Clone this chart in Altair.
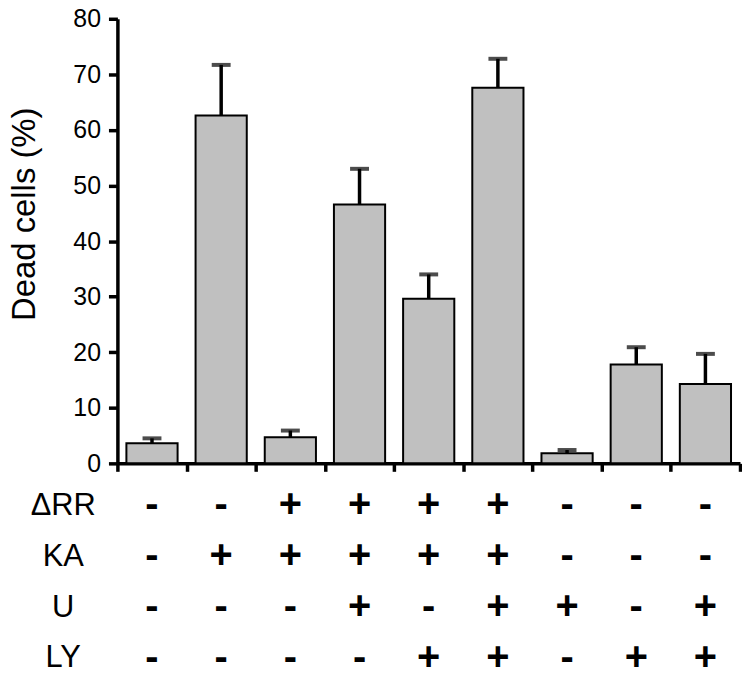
import altair as alt
import pandas as pd

# ---- data ----
conditions = ["1", "2", "3", "4", "5", "6", "7", "8", "9"]
dead_mean = [3.6, 62.6, 4.7, 46.6, 29.6, 67.6, 1.8, 17.8, 14.3]
dead_err = [0.9, 9.1, 1.2, 6.4, 4.4, 5.2, 0.6, 3.1, 5.4]

factors = ["ΔRR", "KA", "U", "LY"]
sign_drr = ["-", "-", "+", "+", "+", "+", "-", "-", "-"]
sign_ka = ["-", "+", "+", "+", "+", "+", "-", "-", "-"]
sign_u = ["-", "-", "-", "+", "-", "+", "+", "-", "+"]
sign_ly = ["-", "-", "-", "-", "+", "+", "-", "+", "+"]
y_ticks = [0, 10, 20, 30, 40, 50, 60, 70, 80]

bars_df = pd.DataFrame({"condition": conditions, "mean": dead_mean, "err": dead_err})
bars_df["top"] = bars_df["mean"] + bars_df["err"]

rows = []
for f, signs in zip(factors, [sign_drr, sign_ka, sign_u, sign_ly]):
    for c, s in zip(conditions, signs):
        rows.append({"factor": f, "condition": c, "sign": s})
signs_df = pd.DataFrame(rows)

PLOT_W = 626
x_scale = alt.Scale(domain=conditions, paddingInner=0, paddingOuter=0)

x_axis = alt.Axis(
    labels=False, title=None, tickBand="extent", grid=False,
    domainColor="black", domainWidth=3.5, tickColor="black",
    tickWidth=3.5, tickSize=8,
)
y_axis = alt.Axis(
    values=y_ticks, title="Dead cells (%)", grid=False,
    domainColor="black", domainWidth=3.5, tickColor="black",
    tickWidth=3.5, tickSize=9, labelFontSize=25, labelColor="black",
    labelPadding=8, titleFontSize=33, titleFontWeight="normal",
    titleColor="black", titlePadding=32, titleY=196,
)

base = alt.Chart(bars_df).encode(
    x=alt.X("condition:N", scale=x_scale, axis=x_axis, sort=conditions)
)

bars = base.mark_bar(
    fill="#c0c0c0", stroke="black", strokeWidth=2,
    width=alt.RelativeBandSize(0.74),
).encode(y=alt.Y("mean:Q", scale=alt.Scale(domain=[0, 80], nice=False), axis=y_axis))

err = base.mark_rule(color="black", strokeWidth=3.5).encode(
    y=alt.Y("mean:Q"), y2=alt.Y2("top:Q")
)
caps = base.mark_tick(color="black", thickness=4, size=19, orient="horizontal").encode(
    y=alt.Y("top:Q")
)

top = alt.layer(bars, err, caps).properties(width=PLOT_W, height=447)

table = alt.Chart(signs_df).mark_text(
    fontSize=40, fontWeight="bold", color="black", baseline="middle"
).encode(
    x=alt.X("condition:N", scale=x_scale, axis=None, sort=conditions),
    y=alt.Y(
        "factor:N", sort=factors,
        scale=alt.Scale(type="point", padding=0.3),
        axis=alt.Axis(
            title=None, domain=False, ticks=False, labelAlign="center",
            labelPadding=55, labelFontSize=31, labelColor="black",
            labelBaseline="middle",
        ),
    ),
    text="sign:N",
).properties(width=PLOT_W, height=184)

chart = alt.vconcat(top, table, spacing=9).properties(
    padding={"left": 0, "top": -3, "right": 0, "bottom": 3}
).configure(font="Liberation Sans").configure_view(stroke=None)

chart.save("out.html", embed_options={"renderer": "svg", "actions": False})
